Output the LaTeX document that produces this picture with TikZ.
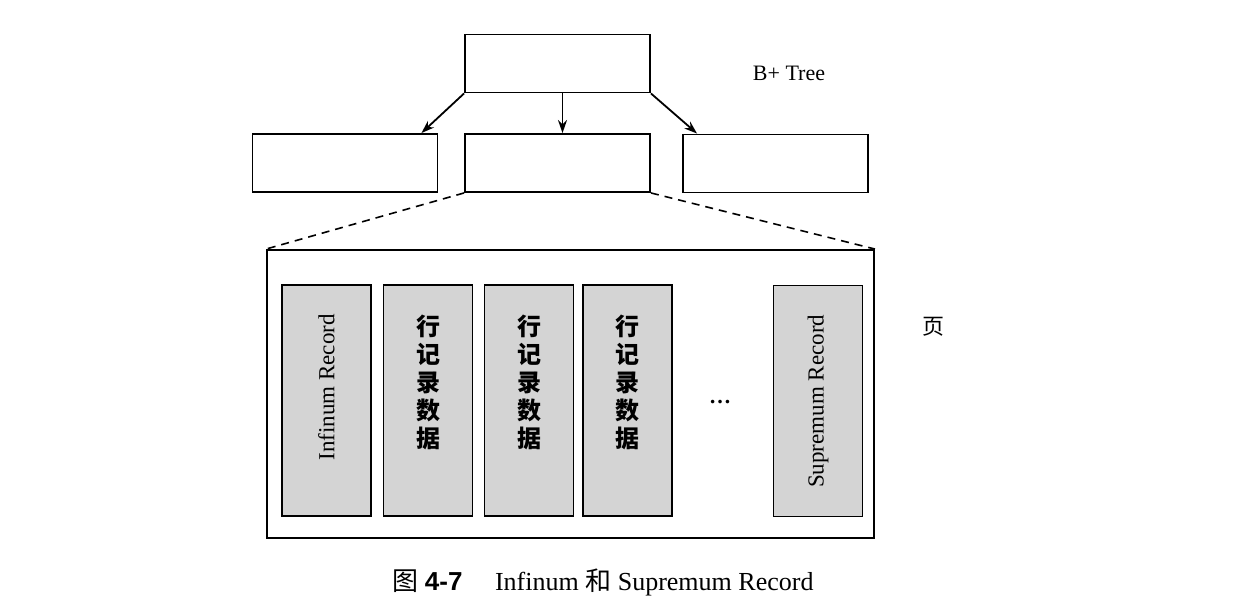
\documentclass[tikz,border=0pt]{standalone}
\usepackage{fontspec}
\setmainfont{Liberation Serif}
\setsansfont{Liberation Sans}
\newfontfamily\cjk{Noto Sans CJK SC}
\usetikzlibrary{positioning,arrows.meta}

\begin{document}
\begin{tikzpicture}[
  x=1pt, y=-1pt,
  >={Stealth[length=13pt,width=9pt]},
  treebox/.style={draw, line width=1.9pt, minimum width=185pt, minimum height=58pt, inner sep=0pt},
  pagebox/.style={draw, line width=1.9pt, minimum width=607pt, minimum height=288pt, inner sep=0pt},
  rec/.style={draw, line width=1.9pt, fill=black!17, minimum width=89pt, minimum height=231pt, inner sep=0pt},
  rectxt/.style={inner sep=0pt, font=\fontsize{23}{27}\selectfont},
  rowtxt/.style={inner sep=0pt, align=center, font=\cjk\bfseries\fontsize{24}{28}\selectfont},
  link/.style={->, line width=1.8pt},
  zoomline/.style={dash pattern=on 8pt off 6pt, line width=1.6pt}
]
\useasboundingbox (0,0) rectangle (1255,611);

% B+ tree: root and children
\node[treebox] (root) at (557.5,63.5) {};
\node[treebox] (left) at (345,163) {};
\node[treebox] (mid) at (557.5,163) {};
\node[treebox] (right) at (775.5,163.5) {};
\node[font=\fontsize{22}{26}\selectfont] (bptree) at (789,73) {B+ Tree};

\draw[link] (root.south west) -- ([xshift=-17pt]left.north east);
\draw[link] ([xshift=5pt]root.south) -- ([xshift=5pt]mid.north);
\draw[link] (root.south east) -- ([xshift=15pt]right.north west);

% Page (zoom of the middle leaf)
\node[pagebox] (page) at (570.5,394) {};
\draw[zoomline] (mid.south west) -- (page.north west);
\draw[zoomline] (mid.south east) -- (page.north east);
\node[font=\cjk\fontsize{22}{26}\selectfont] (pagelbl) at (933,327) {页};

% Records inside the page
\node[rec] (inf) at (326.5,400.5) {};
\node[rec] (rowa) at (428,400.5) {};
\node[rec] (rowb) at (529,400.5) {};
\node[rec] (rowc) at (627.5,400.5) {};
\node[rec] (sup) at (818,401) {};
\node[font=\bfseries\fontsize{22}{26}\selectfont] (dots) at (720,402) {\dots};

\node[rectxt, below=30pt of inf.north] (inftxt) {\rotatebox{90}{Infinum Record}};
\node[rowtxt, below=31pt of rowa.north] (rowatxt) {行\\记\\录\\数\\据};
\node[rowtxt, below=31pt of rowb.north] (rowbtxt) {行\\记\\录\\数\\据};
\node[rowtxt, below=31pt of rowc.north] (rowctxt) {行\\记\\录\\数\\据};
\node[rectxt, below=30pt of sup.north] (suptxt) {\rotatebox{90}{Supremum Record}};

% Caption
\node[font=\fontsize{26}{30}\selectfont] (caption) at (603,582)
  {{\cjk 图} {\sffamily\bfseries 4-7}\hspace{1em} Infinum {\cjk 和} Supremum Record};

\end{tikzpicture}
\end{document}
